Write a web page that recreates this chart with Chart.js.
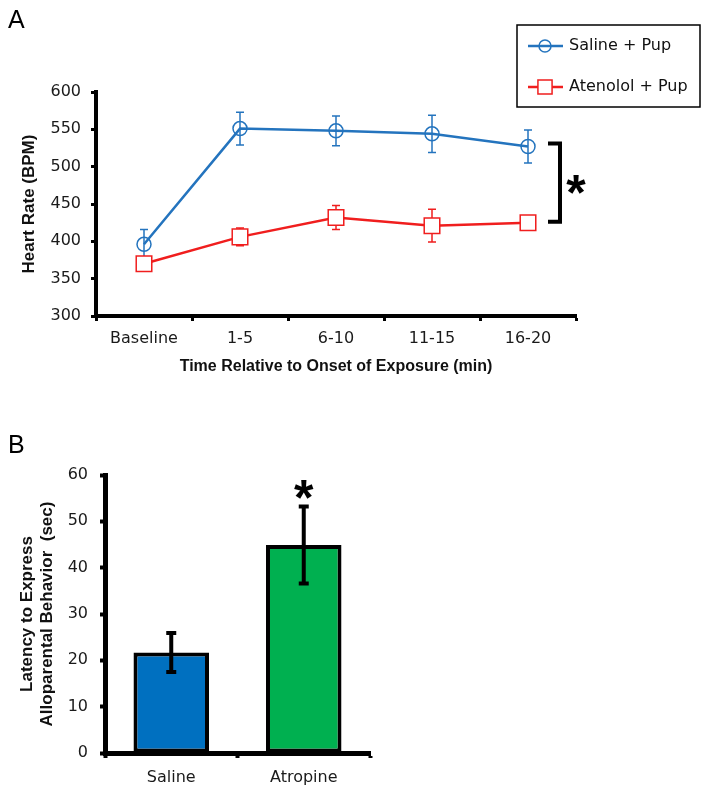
<!DOCTYPE html>
<html>
<head>
<meta charset="utf-8">
<title>Heart rate and latency</title>
<script src="https://cdn.jsdelivr.net/npm/chart.js@4.4.1/dist/chart.umd.min.js"></script>
<style>
  body { margin: 0; background: #fff; }
  #page { position: relative; width: 708px; height: 793px; overflow: hidden; }
  #chart-a { position: absolute; left: 0; top: 0; }
  #chart-b { position: absolute; left: 0; top: 360px; }
</style>
</head>
<body>
<div id="page">
  <canvas id="chart-a" width="708" height="390"></canvas>
  <canvas id="chart-b" width="708" height="433"></canvas>
</div>
<script>
// panel A - heart rate
const timeLabels = ["Baseline", "1-5", "6-10", "11-15", "16-20"];
const salineHR = [396, 551, 548, 544, 527];
const salineErr = [20, 22, 20, 25, 22];
const atenololHR = [370, 406, 432, 421, 425];
const atenololErr = [5, 12, 16, 22, 5];
const hrTicks = [300, 350, 400, 450, 500, 550, 600];

// panel B - latency
const groupLabels = ["Saline", "Atropine"];
const latency = [21.7, 44.9];
const latencyErr = [4.2, 8.3];
const latencyTicks = [0, 10, 20, 30, 40, 50, 60];

const BLUE = "#2474be";
const RED = "#f01e1e";

Chart.defaults.font.family = "'DejaVu Sans', sans-serif";
Chart.defaults.color = "#1a1a1a";

function drawErrorBars(chart, errs, lineWidth, cap, colors) {
  const ctx = chart.ctx;
  const y = chart.scales.y;
  chart.data.datasets.forEach((ds, i) => {
    const meta = chart.getDatasetMeta(i);
    ctx.save();
    ctx.lineWidth = lineWidth;
    ctx.strokeStyle = colors[i];
    meta.data.forEach((el, j) => {
      const v = ds.data[j];
      const top = y.getPixelForValue(v + errs[i][j]);
      const bot = y.getPixelForValue(v - errs[i][j]);
      ctx.beginPath();
      ctx.moveTo(el.x, top);
      ctx.lineTo(el.x, bot);
      ctx.moveTo(el.x - cap, top);
      ctx.lineTo(el.x + cap, top);
      ctx.moveTo(el.x - cap, bot);
      ctx.lineTo(el.x + cap, bot);
      ctx.stroke();
    });
    ctx.restore();
  });
}

// significance star, centred on (x, yMid)
function drawStar(ctx, x, yMid) {
  ctx.save();
  ctx.fillStyle = "#000";
  ctx.font = "bold 50px 'Liberation Sans'";
  ctx.textAlign = "center";
  ctx.textBaseline = "alphabetic";
  ctx.fillText("*", x, yMid + 27);
  ctx.restore();
}

const panelA = {
  id: "panelA",
  beforeDatasetsDraw(chart) {
    drawErrorBars(chart, [salineErr, atenololErr], 1.5, 4, [BLUE, RED]);
  },
  afterDatasetsDraw(chart) {
    const ctx = chart.ctx;
    const y = chart.scales.y;
    const last = salineHR.length - 1;
    const px = chart.getDatasetMeta(0).data[last].x;
    const x0 = px + 20;
    const yTop = y.getPixelForValue(salineHR[last]) - 3;
    const yBot = y.getPixelForValue(atenololHR[last]) - 1;
    ctx.save();
    ctx.strokeStyle = "#000";
    ctx.lineWidth = 4;
    ctx.beginPath();
    ctx.moveTo(x0, yTop);
    ctx.lineTo(x0 + 12, yTop);
    ctx.lineTo(x0 + 12, yBot);
    ctx.lineTo(x0, yBot);
    ctx.stroke();
    ctx.restore();
    drawStar(ctx, x0 + 28, (yTop + yBot) / 2);
  },
  afterDraw(chart) {
    const ctx = chart.ctx;
    ctx.save();
    // panel letter
    ctx.fillStyle = "#000";
    ctx.font = "25px 'Liberation Sans'";
    ctx.textBaseline = "alphabetic";
    ctx.fillText("A", 8, 28);

    // legend box
    ctx.strokeStyle = "#000";
    ctx.lineWidth = 1.5;
    ctx.strokeRect(517, 25, 183, 82);
    const rows = [
      { text: "Saline + Pup", y: 46, color: BLUE, style: "circle", r: 6, fill: "rgba(0,0,0,0)" },
      { text: "Atenolol + Pup", y: 87, color: RED, style: "rect", r: 10, fill: "#fff" },
    ];
    ctx.font = "16px 'DejaVu Sans'";
    ctx.textBaseline = "middle";
    rows.forEach(row => {
      ctx.strokeStyle = row.color;
      ctx.lineWidth = 2.5;
      ctx.beginPath();
      ctx.moveTo(528, row.y);
      ctx.lineTo(563, row.y);
      ctx.stroke();
      ctx.fillStyle = row.fill;
      ctx.lineWidth = 1.5;
      Chart.helpers.drawPoint(ctx, { pointStyle: row.style, radius: row.r, borderWidth: 1.5 }, 545, row.y);
      ctx.fillStyle = "#111";
      ctx.fillText(row.text, 569, row.y);
    });
    ctx.restore();
  }
};

new Chart(document.getElementById("chart-a").getContext("2d"), {
  type: "line",
  data: {
    labels: timeLabels,
    datasets: [
      {
        label: "Saline + Pup",
        data: salineHR,
        borderColor: BLUE,
        borderWidth: 2.5,
        pointStyle: "circle",
        pointRadius: 7,
        pointBorderWidth: 1.5,
        pointBorderColor: BLUE,
        pointBackgroundColor: "rgba(0,0,0,0)",
        tension: 0,
      },
      {
        label: "Atenolol + Pup",
        data: atenololHR,
        borderColor: RED,
        borderWidth: 2.5,
        pointStyle: "rect",
        pointRadius: 11,
        pointBorderWidth: 1.5,
        pointBorderColor: RED,
        pointBackgroundColor: "#fff",
        tension: 0,
      },
    ],
  },
  options: {
    responsive: false,
    animation: false,
    layout: { padding: { left: 0, top: 92, right: 132, bottom: 14 } },
    plugins: { legend: { display: false }, tooltip: { enabled: false } },
    scales: {
      x: {
        offset: true,
        grid: { display: true, offset: true, drawOnChartArea: false, tickLength: 5, tickWidth: 3, tickColor: "#000" },
        border: { display: true, color: "#000", width: 4 },
        ticks: { font: { size: 16 }, padding: 8, maxRotation: 0 },
        title: { display: true, text: "Time Relative to Onset of Exposure (min)", color: "#111",
                 font: { size: 16, weight: "bold", family: "'Liberation Sans'" }, padding: { top: 0, bottom: 0 } },
        afterFit(scale) { scale.height = 60; },
      },
      y: {
        min: 300,
        max: 600,
        afterBuildTicks(scale) { scale.ticks = hrTicks.map(v => ({ value: v })); },
        grid: { display: true, drawOnChartArea: false, tickLength: 5, tickWidth: 3, tickColor: "#000" },
        border: { display: true, color: "#000", width: 4 },
        ticks: { font: { size: 16 }, padding: 10 },
        title: { display: true, text: "Heart Rate (BPM)", color: "#111",
                 font: { size: 17, weight: "bold", family: "'Liberation Sans'" }, padding: { top: 19, bottom: 0 } },
        afterFit(scale) { scale.width = 96; },
      },
    },
  },
  plugins: [panelA],
});

const panelB = {
  id: "panelB",
  afterDatasetsDraw(chart) {
    drawErrorBars(chart, [latencyErr], 4, 5, ["#000"]);
    const y = chart.scales.y;
    const bar = chart.getDatasetMeta(0).data[1];
    drawStar(chart.ctx, bar.x, y.getPixelForValue(latency[1] + latencyErr[1]) - 19);
  },
  afterDraw(chart) {
    const ctx = chart.ctx;
    ctx.save();
    ctx.fillStyle = "#000";
    ctx.font = "25px 'Liberation Sans'";
    ctx.textBaseline = "alphabetic";
    ctx.fillText("B", 8, 93);
    ctx.restore();
  }
};

new Chart(document.getElementById("chart-b").getContext("2d"), {
  type: "bar",
  data: {
    labels: groupLabels,
    datasets: [
      {
        data: latency,
        backgroundColor: ["#0070c0", "#00b050"],
        borderColor: "#000",
        borderWidth: 4,
        borderSkipped: false,
        categoryPercentage: 1,
        barPercentage: 0.57,
      },
    ],
  },
  options: {
    responsive: false,
    animation: false,
    layout: { padding: { left: 0, top: 115, right: 338, bottom: 5 } },
    plugins: { legend: { display: false }, tooltip: { enabled: false } },
    scales: {
      x: {
        grid: { display: true, offset: true, drawOnChartArea: false, tickLength: 5, tickWidth: 4, tickColor: "#000" },
        border: { display: true, color: "#000", width: 5 },
        ticks: { font: { size: 16 }, padding: 10, maxRotation: 0 },
        afterFit(scale) { scale.height = 35; },
      },
      y: {
        min: 0,
        max: 60,
        afterBuildTicks(scale) { scale.ticks = latencyTicks.map(v => ({ value: v })); },
        grid: { display: true, drawOnChartArea: false, tickLength: 5, tickWidth: 4, tickColor: "#000" },
        border: { display: true, color: "#000", width: 5 },
        ticks: { font: { size: 16 }, padding: 12 },
        title: { display: true, text: ["Latency to Express", "Alloparental Behavior  (sec)"], color: "#111",
                 font: { size: 17, weight: "bold", family: "'Liberation Sans'" }, padding: { top: 17, bottom: 0 } },
        afterFit(scale) { scale.width = 105; },
      },
    },
  },
  plugins: [panelB],
});
</script>
</body>
</html>
